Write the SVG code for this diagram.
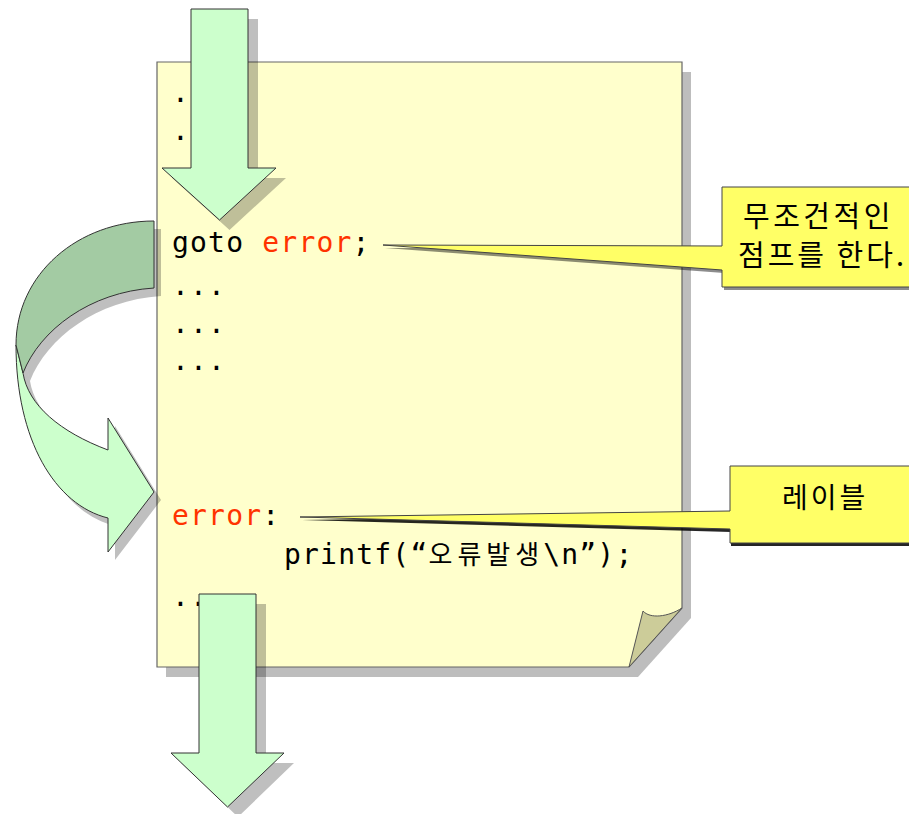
<svg xmlns="http://www.w3.org/2000/svg" width="909" height="814" viewBox="0 0 909 814">
<style>
.shadow{fill:#000;fill-opacity:0.25;stroke:none}
.arrow{fill:#ccffcc;stroke:#333;stroke-width:1;stroke-linejoin:miter}
.arrowdark{fill:#a3cba3;stroke:#333;stroke-width:1}
.code{font-family:"DejaVu Sans Mono","Liberation Mono",monospace;font-size:28px;letter-spacing:1.2px;fill:#000}
.kw{fill:#ff3300}
.ko{font-family:"Noto Sans CJK KR","Noto Sans",sans-serif}
.callout{fill:#ffff66;stroke:#444;stroke-width:1}
.ctext{font-family:"Noto Sans CJK KR","Noto Sans",sans-serif;fill:#000}
</style>
<rect width="909" height="814" fill="#fff"/>
<g id="page">
<path d="M166,72 H691 V618 L638,677 H166 Z" fill="#bdbdbd"/>
<path d="M157,62 H682 V608 L629,667 H157 Z" fill="#ffffcc" stroke="#666" stroke-width="1.2"/>
<path d="M629,667 L643,611 C650,619 668,617 682,608 Z" fill="#cccc99" stroke="#555" stroke-width="1"/>
</g>
<g id="code">
<text class="code" x="172" y="102">.</text>
<text class="code" x="172" y="140">.</text>
<text class="code" x="172" y="252">goto <tspan class="kw">error</tspan>;</text>
<text class="code" x="172" y="295">...</text>
<text class="code" x="172" y="333">...</text>
<text class="code" x="172" y="370">...</text>
<text class="code" x="172" y="525"><tspan class="kw">error</tspan>:</text>
<text class="code" x="284" y="564">printf(“<tspan class="ko" font-size="26" letter-spacing="5">오류발생</tspan><tspan dx="-1">\n”);</tspan></text>
<text class="code" x="172" y="606">...</text>
</g>
<g id="callout-jump">
<path d="M724,190 H912 V290 H724 V273 L385,248 L724,248 Z" fill="#000" fill-opacity="0.45"/>
<path class="callout" d="M722,187 H912 V287 H722 V270 L383,245 L722,246 Z"/>
<text class="ctext" x="743" y="227" font-size="29" letter-spacing="3.5">무조건적인</text>
<text class="ctext" x="738" y="266" font-size="29" letter-spacing="3">점프를 한다.</text>
</g>
<g id="callout-label">
<path d="M731,469 H912 V546 H731 V532 L302,520 L731,514 Z" fill="#000" fill-opacity="0.85"/>
<path class="callout" d="M730,466 H912 V543 H730 V529 L300,517 L730,511 Z"/>
<text class="ctext" x="782" y="508" font-size="28" letter-spacing="3">레이블</text>
</g>
<g id="connectors">
<g id="arrow-in">
<path class="shadow" d="M201,19 H258 V178 H286 L229.5,230 L172,178 H201 Z"/>
<path class="arrow" d="M191,9 H248 V168 H276 L219.5,220 L162,168 H191 Z"/>
</g>
<g id="arrow-jump">
<g transform="translate(7,8)">
<path class="shadow" d="M16,345 C16,440 55,505 108,518 L108,552 L154,492 L108,418 L108,450 C60,432 28,405 23,373 Z"/>
<path class="shadow" d="M154,221 C78,221 16,274 16,345 L23,373 C40,330 90,292 154,288 Z"/>
</g>
<path class="arrow" d="M16,345 C16,440 55,505 108,518 L108,552 L154,492 L108,418 L108,450 C60,432 28,405 23,373 Z"/>
<path class="arrowdark" d="M154,221 C78,221 16,274 16,345 L23,373 C40,330 90,292 154,288 Z"/>
</g>
<g id="arrow-out">
<path class="shadow" d="M209,604 H266 V763 H294 L238,817 L181,763 H209 Z"/>
<path class="arrow" d="M199,594 H256 V753 H284 L227.5,807 L171,753 H199 Z"/>
</g>
</g>
</svg>
